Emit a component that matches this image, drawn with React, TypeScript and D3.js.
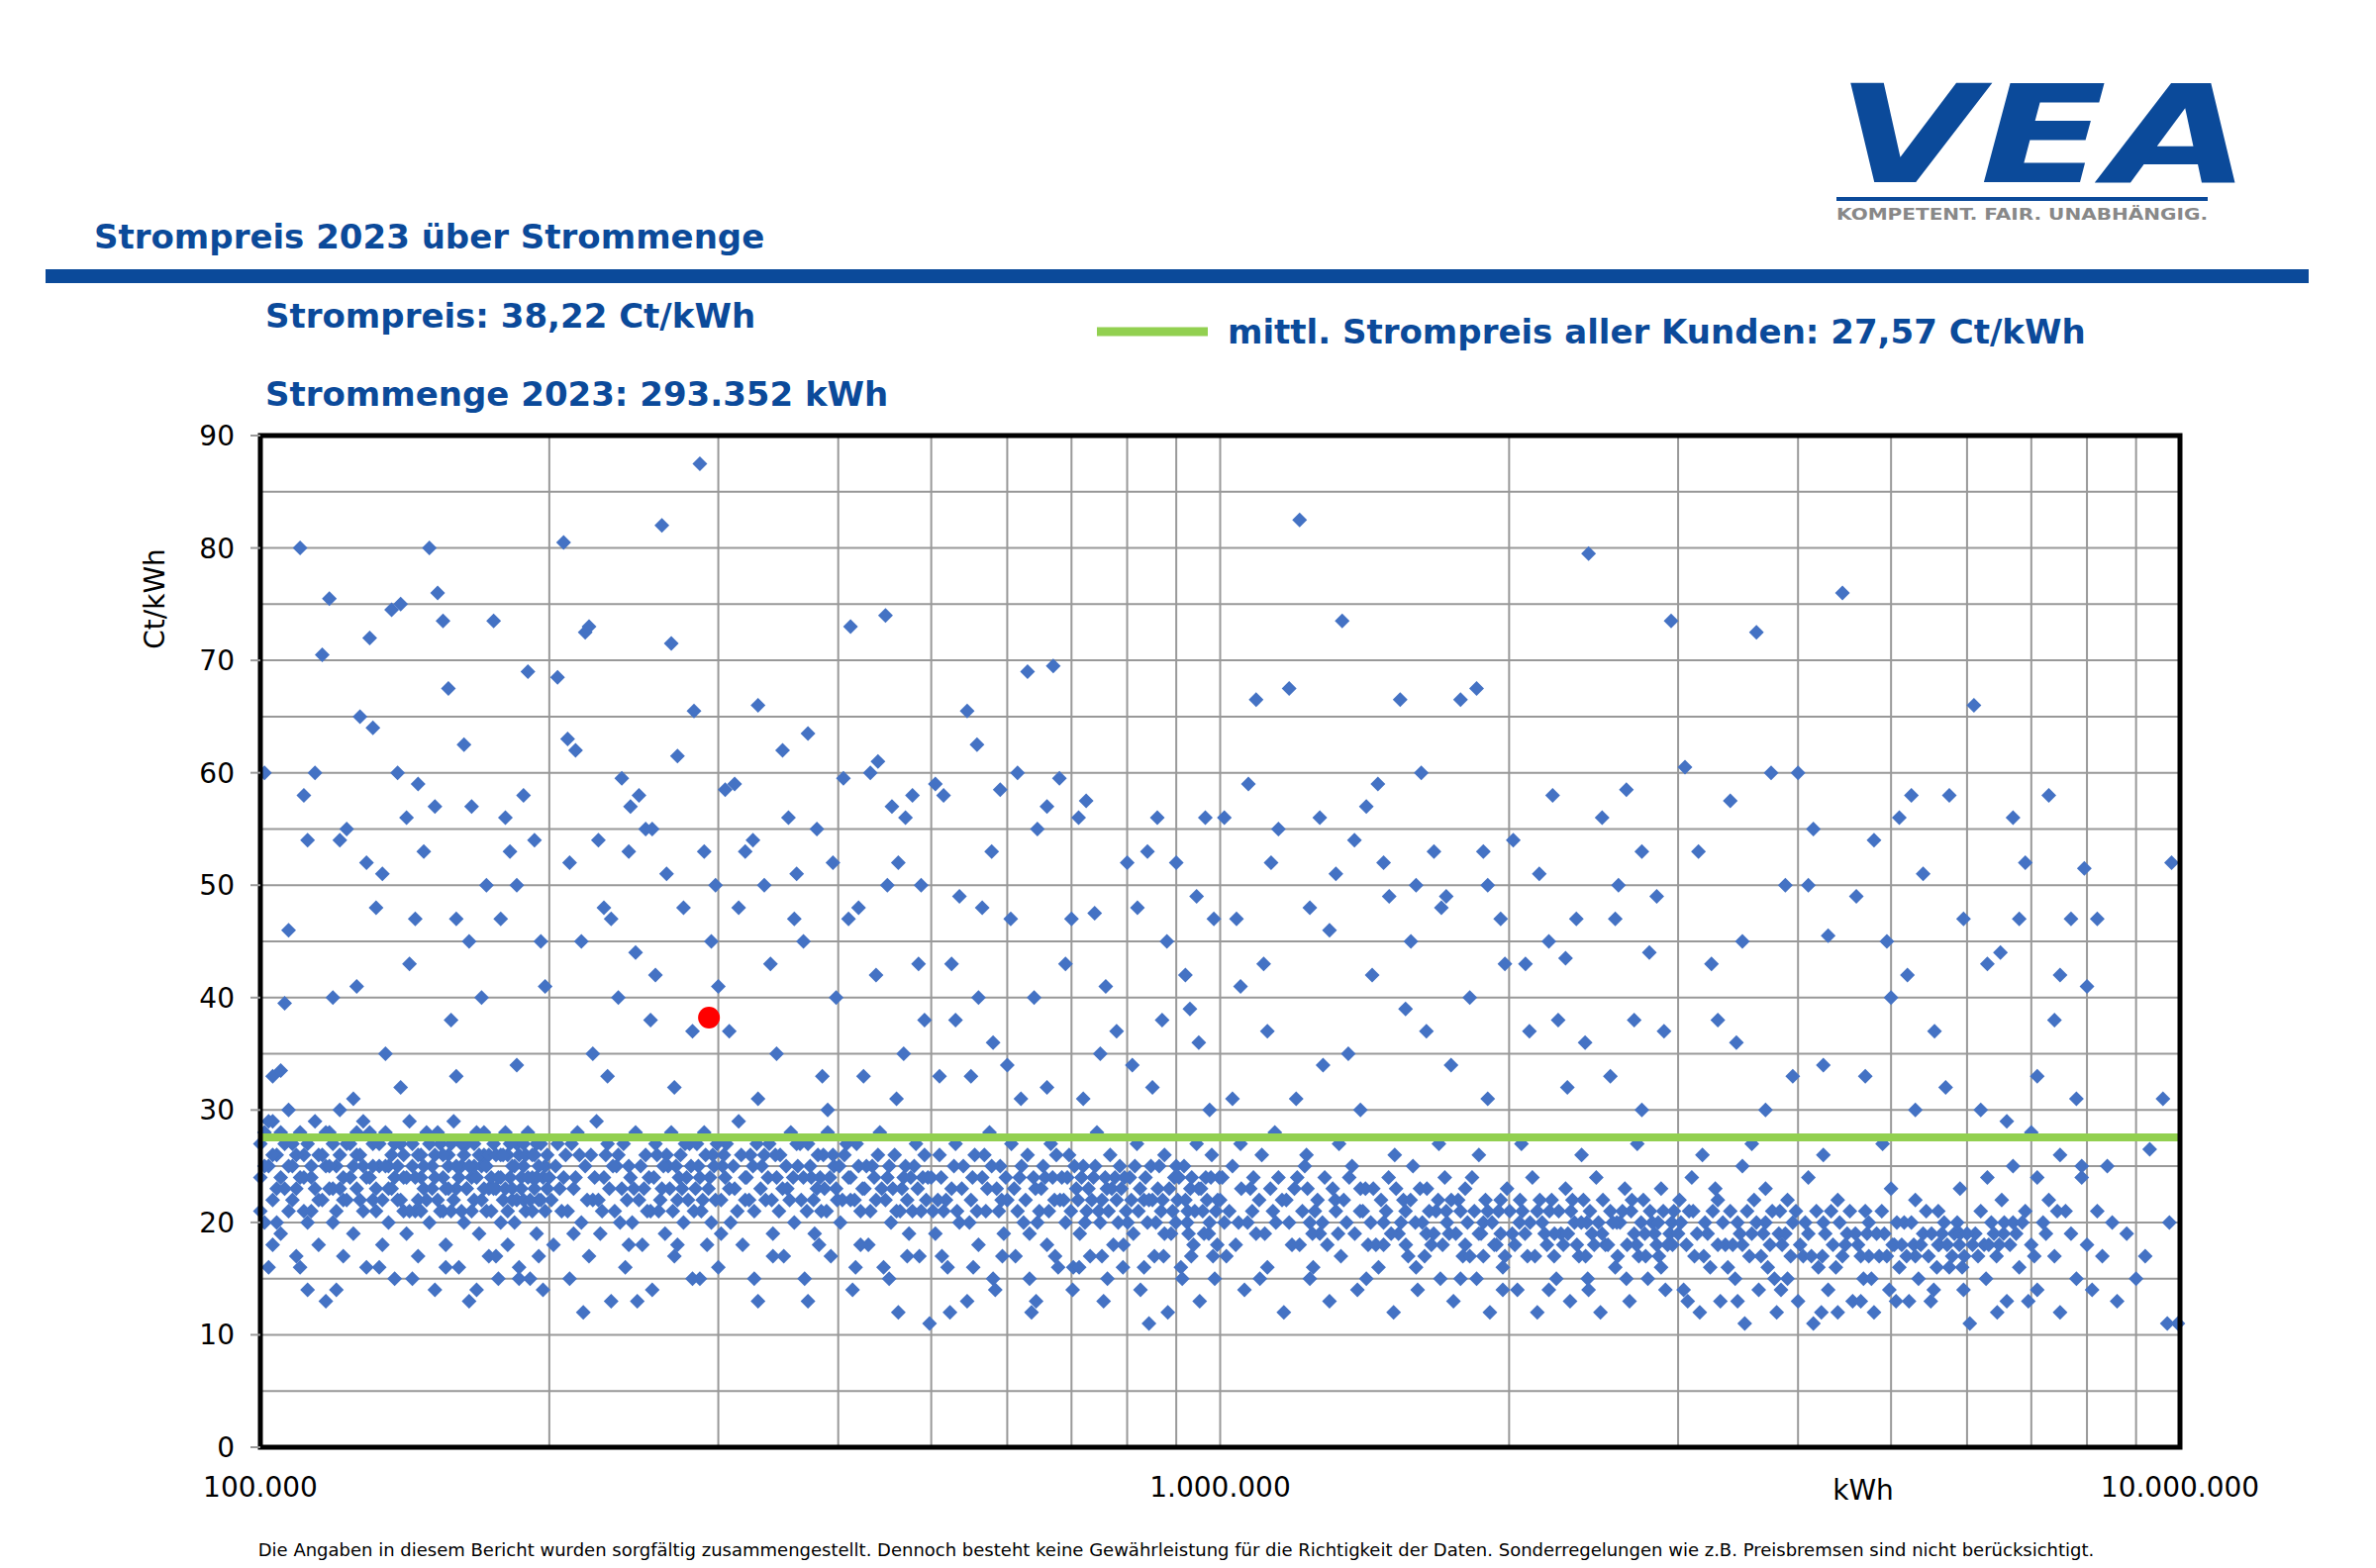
import React from "react";
import * as d3 from "d3";

const yTicks = [0, 10, 20, 30, 40, 50, 60, 70, 80, 90];
const xTickLabels = [
  { v: 1e5, t: "100.000" },
  { v: 1e6, t: "1.000.000" },
  { v: 1e7, t: "10.000.000" },
];
const meanPrice = 27.57;
const ownPoint = { kwh: 293352, price: 38.22 };

// [thousand kWh, Ct/kWh]
const outliersA = [[101,60],[103,33],[105,33.5],[107,46],[106,39.5],[110,80],[112,54],[111,58],[114,60],[116,70.5],[118,75.5],[119,40],[121,54],[123,55],[126,41],[127,65],[129,52],[130,72],[131,64],[132,48],[134,51],[137,74.5],[140,75],[139,60],[142,56],[143,43],[146,59],[150,80],[153,76],[155,73.5],[152,57],[157,67.5],[160,47],[163,62.5],[166,57],[170,40],[175,73.5],[180,56],[182,53],[185,50],[190,69],[193,54],[196,45],[165,45],[172,50],[148,53],[135,35],[145,47],[158,38],[178,47],[188,58],[125,31],[140,32],[160,33],[185,34],[198,41]];
const bandA = [[100,24],[100,27],[101,20],[101,28],[102,25],[102,16],[103,22],[103,29],[104,26],[105,19],[105,24],[106,27],[107,21],[107,30],[108,25],[109,17],[109,23],[110,28],[111,26],[112,20],[112,14],[113,24],[114,29],[115,22],[115,18],[116,26],[117,13],[118,23],[118,28],[119,20],[120,25],[121,30],[122,22],[122,17],[123,27],[124,24],[125,19],[126,26],[127,22],[128,29],[129,16],[130,24],[131,27],[132,21],[133,25],[134,18],[135,28],[136,23],[137,26],[138,15],[139,22],[140,27],[141,24],[142,19],[143,29],[144,25],[145,21],[146,17],[147,26],[148,23],[149,28],[150,20],[151,25],[152,14],[153,22],[154,27],[155,24],[156,18],[157,26],[158,21],[159,29],[160,23],[161,16],[162,25],[163,20],[164,27],[165,13],[166,24],[167,22],[168,28],[169,19],[170,25],[171,26],[172,21],[173,17],[174,24],[175,27],[176,23],[177,15],[178,26],[179,22],[180,28],[181,18],[182,24],[183,25],[184,20],[185,27],[186,16],[187,23],[188,25],[189,21],[190,28],[191,15],[192,24],[193,26],[194,19],[195,22],[196,27],[197,14],[198,25],[199,23],[104,23],[108,27],[113,21],[117,25],[121,23],[126,28],[131,22],[136,25],[141,21],[147,24],[152,26],[157,23],[162,27],[167,25],[173,23],[178,20],[183,22],[188,27],[194,24],[111,24],[119,27],[128,25],[138,24],[146,22],[155,21],[164,23],[171,28],[181,26],[192,21]];
const bandA2 = [[100,21],[101,25],[102,29],[103,26],[104,20],[105,28],[106,23],[107,25],[108,22],[109,26],[110,24],[111,21],[112,27],[113,25],[114,23],[115,26],[116,22],[117,28],[118,25],[119,23],[120,21],[121,26],[122,24],[123,22],[124,27],[125,25],[126,23],[127,26],[128,21],[129,24],[130,28],[131,25],[132,23],[133,27],[134,22],[135,25],[136,20],[137,23],[138,27],[139,25],[140,22],[141,26],[142,24],[143,21],[144,27],[145,24],[146,26],[147,21],[148,25],[149,22],[150,27],[151,23],[152,24],[153,28],[154,21],[155,26],[156,23],[157,25],[158,27],[159,22],[160,25],[161,24],[162,21],[163,26],[164,23],[165,25],[166,21],[167,27],[168,24],[169,26],[170,22],[171,23],[172,25],[173,26],[174,21],[175,23],[176,26],[177,24],[178,24],[179,26],[180,23],[181,21],[182,27],[183,23],[184,25],[185,22],[186,26],[187,24],[188,22],[189,26],[190,24],[191,22],[192,26],[193,23],[194,27],[195,25],[196,22],[197,24],[198,21],[199,26],[103,18],[110,16],[120,14],[133,16],[144,15],[156,16],[168,14],[176,17],[186,15],[195,17]];
const outliersB = [[204,68.5],[207,80.5],[209,63],[213,62],[218,72.5],[220,73],[225,54],[232,47],[238,59.5],[243,57],[248,58],[252,55],[256,55],[262,82],[268,71.5],[272,61.5],[276,48],[283,65.5],[287,87.5],[290,53],[298,50],[305,58.5],[312,59],[320,53],[330,66],[340,43],[350,62],[355,56],[362,51],[372,63.5],[380,55],[398,40],[405,59.5],[412,73],[420,48],[432,60],[440,61],[448,74],[455,57],[462,52],[470,56],[478,58],[485,43],[492,38],[210,52],[216,45],[228,48],[236,40],[246,44],[255,38],[265,51],[282,37],[295,45],[315,48],[335,50],[345,35],[368,45],[385,33],[395,52],[425,33],[438,42],[450,50],[468,35],[488,50],[300,41],[308,37],[258,42],[222,35],[242,53],[326,54],[360,47],[410,47],[230,33],[270,32],[330,31],[390,30],[460,31]];
const bandB = [[200,24],[202,18],[204,27],[206,21],[208,26],[210,15],[212,23],[214,28],[216,20],[218,25],[220,17],[222,22],[224,29],[226,19],[228,24],[230,27],[232,13],[234,21],[236,26],[238,23],[240,16],[242,25],[244,20],[246,28],[248,22],[250,18],[252,26],[254,24],[256,14],[258,27],[260,21],[262,23],[264,19],[266,25],[268,28],[270,17],[272,22],[274,26],[276,20],[278,24],[280,27],[282,15],[284,23],[286,25],[288,21],[290,28],[292,18],[294,24],[296,26],[298,22],[300,16],[303,25],[306,27],[309,20],[312,23],[315,29],[318,18],[321,24],[324,26],[327,21],[330,13],[333,25],[336,22],[339,27],[342,19],[345,24],[348,26],[351,17],[354,23],[357,28],[360,20],[363,25],[366,22],[369,15],[372,27],[375,24],[378,19],[381,26],[384,21],[387,23],[390,28],[393,17],[396,25],[399,22],[402,20],[406,26],[410,24],[414,14],[418,27],[422,21],[426,23],[430,18],[434,25],[438,22],[442,28],[446,16],[450,24],[454,20],[458,26],[462,12],[466,23],[470,25],[474,19],[478,21],[482,27],[486,17],[490,24],[494,22],[498,11],[205,23],[215,26],[225,22],[235,25],[245,23],[255,21],[265,26],[275,23],[285,27],[295,20],[305,24],[320,22],[335,26],[350,23],[365,27],[380,23],[395,26],[412,22],[428,25],[444,23],[460,21],[476,24],[492,26],[217,12],[247,13],[287,15],[327,15],[372,13],[417,16],[452,15]];
const bandB2 = [[201,22],[203,25],[207,24],[209,21],[211,27],[213,24],[219,22],[221,26],[223,24],[227,21],[229,26],[231,23],[233,25],[237,20],[239,27],[241,22],[243,24],[249,25],[251,23],[253,21],[257,24],[259,26],[261,22],[263,25],[267,23],[269,21],[271,25],[273,24],[277,27],[279,22],[281,25],[283,21],[287,24],[289,22],[291,26],[293,23],[297,25],[299,27],[302,22],[304,26],[308,23],[311,25],[314,21],[317,26],[320,24],[323,22],[326,25],[329,27],[332,23],[338,24],[341,22],[344,26],[347,21],[353,25],[356,22],[359,24],[362,27],[368,24],[371,21],[374,25],[377,22],[383,24],[386,26],[389,21],[392,24],[398,23],[401,25],[404,22],[408,27],[412,24],[416,22],[420,25],[424,23],[432,21],[436,24],[440,26],[448,22],[452,25],[456,23],[464,21],[468,24],[472,22],[480,25],[484,23],[488,21],[496,24],[212,19],[242,18],[272,18],[302,19],[342,17],[382,18],[422,18],[472,17]];
const outliersC = [[505,59],[515,58],[525,43],[535,49],[545,65.5],[558,62.5],[565,48],[578,53],[590,58.5],[605,47],[615,60],[630,69],[645,55],[660,57],[670,69.5],[680,59.5],[700,47],[712,56],[725,57.5],[740,47.5],[760,41],[780,37],[800,52],[820,48],[840,53],[860,56],[880,45],[900,52],[920,42],[945,49],[965,56],[985,47],[530,38],[560,40],[600,34],[640,40],[690,43],[750,35],[810,34],[870,38],[930,39],[975,30],[550,33],[620,31],[510,33],[580,36],[660,32],[720,31],[850,32],[950,36]];
const bandC = [[500,24],[505,19],[510,26],[515,21],[520,16],[525,23],[530,27],[535,20],[540,25],[545,13],[550,22],[555,26],[560,18],[565,24],[570,21],[575,28],[580,15],[585,23],[590,25],[595,19],[600,22],[606,27],[612,17],[618,24],[624,20],[630,26],[636,12],[642,23],[648,21],[654,25],[660,18],[666,27],[672,22],[678,16],[684,24],[690,20],[696,26],[702,14],[708,23],[714,19],[720,25],[726,21],[732,17],[738,24],[744,28],[750,20],[756,13],[762,23],[768,26],[774,18],[780,22],[786,25],[792,16],[798,21],[805,24],[812,19],[819,27],[826,14],[833,22],[840,20],[847,25],[854,17],[861,23],[868,21],[875,26],[882,12],[889,19],[896,24],[903,22],[910,16],[917,25],[924,20],[931,23],[938,18],[945,27],[952,13],[959,21],[966,24],[973,19],[980,26],[987,15],[994,22],[508,22],[528,25],[548,20],[568,26],[588,21],[610,23],[633,19],[657,24],[681,22],[705,25],[729,23],[753,22],[777,24],[801,20],[825,23],[850,22],[875,19],[900,25],[925,21],[950,23],[975,20],[998,24],[523,12],[583,14],[643,13],[703,16],[763,15],[843,11],[913,15],[983,17]];
const bandC2 = [[502,21],[512,24],[518,22],[532,21],[538,23],[552,24],[558,21],[572,23],[578,25],[592,22],[598,24],[615,21],[621,25],[627,22],[639,24],[645,20],[651,23],[663,21],[669,24],[675,26],[687,22],[693,24],[699,21],[711,22],[717,24],[723,20],[735,22],[741,25],[747,21],[759,24],[765,21],[771,23],[783,20],[789,23],[795,24],[808,22],[815,25],[822,21],[836,24],[843,22],[857,20],[864,25],[871,22],[885,23],[892,21],[899,20],[906,24],[920,22],[927,19],[934,24],[941,21],[955,23],[962,19],[969,22],[978,24],[990,21],[513,17],[553,16],[593,17],[633,15],[673,17],[713,16],[753,17],[793,18],[833,16],[873,17],[933,17],[993,18]];
const outliersD = [[1010,56],[1040,47],[1070,59],[1090,66.5],[1110,43],[1150,55],[1180,67.5],[1210,82.5],[1240,48],[1270,56],[1300,46],[1340,73.5],[1380,54],[1420,57],[1460,59],[1500,49],[1540,66.5],[1580,45],[1620,60],[1670,53],[1720,49],[1780,66.5],[1850,67.5],[1900,50],[1960,47],[2020,54],[2080,43],[2150,51],[2220,58],[2290,43.5],[2350,47],[2420,79.5],[2500,56],[2580,47],[2650,58.5],[2750,53],[2850,49],[2950,73.5],[1120,37],[1200,31],[1280,34],[1360,35],[1440,42],[1560,39],[1640,37],[1740,34],[1820,40],[1980,43],[2100,37],[2250,38],[2400,36],[2550,33],[2700,38],[2900,37],[1050,41],[1700,48],[1130,52],[1320,51],[1480,52],[1600,50],[1880,53],[2200,45],[2600,50],[2800,44],[1030,31],[1400,30],[1900,31],[2300,32],[2750,30]];
const bandD = [[1000,22],[1015,17],[1030,25],[1045,20],[1060,14],[1075,23],[1090,19],[1105,26],[1120,16],[1135,21],[1150,24],[1165,12],[1180,20],[1195,23],[1210,18],[1225,25],[1240,15],[1255,21],[1270,19],[1285,24],[1300,13],[1318,22],[1336,17],[1354,20],[1372,25],[1390,14],[1408,21],[1426,18],[1444,23],[1462,16],[1480,20],[1498,24],[1516,12],[1534,19],[1552,22],[1570,17],[1588,25],[1606,14],[1624,20],[1642,23],[1660,18],[1678,21],[1696,15],[1714,24],[1732,19],[1750,13],[1770,22],[1790,17],[1810,20],[1830,24],[1850,15],[1870,19],[1890,22],[1910,12],[1930,18],[1950,21],[1970,16],[1990,23],[2015,19],[2040,14],[2065,21],[2090,17],[2115,24],[2140,12],[2165,20],[2190,18],[2215,22],[2240,15],[2265,19],[2290,23],[2315,13],[2340,20],[2365,17],[2390,22],[2415,15],[2440,19],[2465,24],[2490,12],[2520,18],[2550,21],[2580,16],[2610,20],[2640,23],[2670,13],[2700,19],[2730,17],[2760,22],[2790,15],[2820,20],[2850,18],[2880,23],[2910,14],[2940,19],[2970,21],[1010,20],[1080,21],[1160,22],[1240,20],[1320,21],[1400,23],[1480,18],[1560,21],[1640,19],[1720,21],[1800,18],[1880,20],[1960,19],[2050,20],[2140,21],[2230,19],[2320,21],[2410,20],[2500,19],[2590,20],[2680,21],[2770,19],[2860,20],[2960,18],[1050,27],[1140,28],[1230,26],[1330,27],[1520,26],[1690,27],[1860,26],[2060,27],[2380,26],[2720,27]];
const bandD2 = [[1005,24],[1022,21],[1038,18],[1052,23],[1068,20],[1083,24],[1098,22],[1113,19],[1128,23],[1143,20],[1172,22],[1188,18],[1203,24],[1218,21],[1233,23],[1248,19],[1263,22],[1278,20],[1293,18],[1310,23],[1327,19],[1345,22],[1363,24],[1381,19],[1399,21],[1417,23],[1435,20],[1453,18],[1471,22],[1489,21],[1507,19],[1525,23],[1543,20],[1561,18],[1579,22],[1597,20],[1615,23],[1633,17],[1651,21],[1669,19],[1687,22],[1705,18],[1723,20],[1741,22],[1760,19],[1780,21],[1800,23],[1820,17],[1840,21],[1860,19],[1880,17],[1900,21],[1920,20],[1940,18],[1960,22],[1980,17],[2003,21],[2028,18],[2053,22],[2078,19],[2103,20],[2128,17],[2153,22],[2178,19],[2203,21],[2228,17],[2253,21],[2278,18],[2303,19],[2328,22],[2353,18],[2378,20],[2403,17],[2428,21],[2453,18],[2478,20],[2505,22],[2535,18],[2565,20],[2595,17],[2625,21],[2655,18],[2685,22],[2715,18],[2745,20],[2775,17],[2805,21],[2835,19],[2865,17],[2895,21],[2925,18],[2955,20],[1100,15],[1250,16],[1420,15],[1600,16],[1780,15],[1970,14],[2200,14],[2420,14],[2650,15],[2880,16]];
const outliersE = [[3050,60.5],[3150,53],[3250,43],[3400,57.5],[3500,45],[3620,72.5],[3750,60],[3880,50],[4000,60],[4150,55],[4300,45.5],[4450,76],[4600,49],[4800,54],[4950,45],[5100,56],[5250,58],[5400,51],[5550,37],[5750,58],[5950,47],[6100,66],[6300,43],[6500,44],[6700,56],[6900,52],[7100,33],[7300,58],[7500,42],[7700,47],[7950,51.5],[8500,20],[9300,26.5],[9600,31],[9800,52],[9950,11],[9700,11],[3300,38],[3450,36],[3700,30],[3950,33],[4250,34],[4700,33],[5000,40],[5300,30],[5700,32],[6200,30],[6600,29],[7000,28],[7400,38],[7800,31],[9750,20],[8200,47],[8000,41],[6800,47],[5200,42],[4100,50]];
const bandE = [[3000,19],[3040,14],[3080,21],[3120,17],[3160,12],[3200,20],[3240,16],[3280,23],[3320,13],[3360,18],[3400,21],[3440,15],[3480,19],[3520,11],[3560,17],[3600,22],[3640,14],[3680,19],[3720,16],[3760,21],[3800,12],[3850,18],[3900,15],[3950,20],[4000,13],[4050,17],[4100,19],[4150,11],[4200,16],[4250,20],[4300,14],[4350,18],[4400,12],[4450,17],[4500,19],[4560,13],[4620,18],[4680,15],[4740,20],[4800,12],[4860,17],[4920,19],[4980,14],[5040,18],[5100,16],[5160,20],[5220,13],[5280,18],[5340,15],[5400,19],[5470,17],[5540,14],[5610,18],[5680,20],[5750,16],[5820,19],[5890,18],[5960,17],[6040,11],[6120,19],[6200,21],[6280,15],[6360,20],[6440,17],[6520,22],[6600,13],[6700,20],[6800,16],[6900,21],[7000,18],[7100,14],[7200,20],[7300,22],[7400,17],[7500,12],[7600,21],[7700,19],[7800,15],[7900,24],[8000,18],[8100,14],[8200,21],[8300,17],[8400,25],[8600,13],[8800,19],[9000,15],[9200,17],[3100,24],[3300,22],[3500,25],[3700,23],[3900,22],[4100,24],[4400,22],[4700,21],[5000,23],[5300,22],[5600,21],[5900,23],[6300,24],[6700,25],[7100,24],[7500,26],[7900,25],[3020,20],[3220,19],[3420,18],[3620,20],[3820,19],[4020,18],[4240,17],[4480,18],[4740,17],[5020,18],[5300,17],[5600,18],[5900,19],[6250,18],[6550,19],[3180,26],[3580,27],[4250,26],[4900,27]];
const bandE2 = [[3010,22],[3060,18],[3110,21],[3140,19],[3190,17],[3260,21],[3300,18],[3340,20],[3380,16],[3460,20],[3500,18],[3540,21],[3580,19],[3660,17],[3700,20],[3740,18],[3780,15],[3830,21],[3880,19],[3930,17],[3980,21],[4070,20],[4130,17],[4180,21],[4270,19],[4330,21],[4380,16],[4420,20],[4530,21],[4590,19],[4650,17],[4720,19],[4770,15],[4830,19],[4890,21],[4950,17],[5070,20],[5130,18],[5190,17],[5250,20],[5370,18],[5440,21],[5510,19],[5580,16],[5650,19],[5720,18],[5790,17],[5860,20],[5930,16],[6000,19],[6080,18],[6160,17],[6320,18],[6400,19],[6480,18],[6560,20],[6650,18],[6750,19],[6850,20],[7050,17],[7250,19],[7450,21],[3070,13],[3460,13],[3840,14],[4230,12],[4650,13],[5060,13],[5500,13],[5950,14],[6450,12],[6950,13]];

const allPoints: number[][] = [
  ...outliersA, ...bandA, ...bandA2, ...outliersB, ...bandB, ...bandB2, ...outliersC, ...bandC, ...bandC2,
  ...outliersD, ...bandD, ...bandD2, ...outliersE, ...bandE, ...bandE2,
];

const BLUE = "#0b4a9a";
const font = "Tahoma, 'DejaVu Sans', Verdana, sans-serif";

export default function App() {
  const L = 263, R = 2202, T = 440, B = 1462;
  const x = d3.scaleLog().domain([1e5, 1e7]).range([L, R]);
  const y = d3.scaleLinear().domain([0, 90]).range([B, T]);
  const vGrid: number[] = [];
  for (const dec of [1e5, 1e6]) for (let k = 1; k <= 9; k++) vGrid.push(dec * k);
  vGrid.push(1e7);
  const hGrid = d3.range(0, 91, 5);
  const h = 7.5;
  const diamond = `M0,${-h}L${h},0L0,${h}L${-h},0Z`;
  return (
    <svg width={2400} height={1584} style={{ display: "block", position: "absolute", left: 0, top: 0, background: "#fff" }} fontFamily={font}>
      <rect width={2400} height={1584} fill="#fff" />
      {/* logo */}
      <g>
        <text x={1855} y={186} fontSize={105} fontWeight="bold" fontStyle="italic" fill="#0b4a9a" textLength={418} lengthAdjust="spacingAndGlyphs" fontFamily="'DejaVu Sans', sans-serif" transform="translate(0,-58) scale(1,1.3)" style={{ transformOrigin: "0 0" }}>VEA</text>
        <rect x={1855} y={199} width={375} height={4} fill="#0b4a9a" />
        <text x={1855} y={222} fontSize={16} fontWeight="bold" fill="#888" textLength={375} lengthAdjust="spacingAndGlyphs">KOMPETENT. FAIR. UNABHÄNGIG.</text>
      </g>
      <text x={95} y={251} fontSize={34} fontWeight="bold" fill={BLUE}>Strompreis 2023 über Strommenge</text>
      <rect x={46} y={272} width={2286} height={14} fill={BLUE} />
      <text x={268} y={331} fontSize={34} fontWeight="bold" fill={BLUE}>Strompreis: 38,22 Ct/kWh</text>
      <text x={268} y={410} fontSize={34} fontWeight="bold" fill={BLUE}>Strommenge 2023: 293.352 kWh</text>
      <line x1={1108} x2={1220} y1={335} y2={335} stroke="#92d050" strokeWidth={9} />
      <text x={1240} y={347} fontSize={34} fontWeight="bold" fill={BLUE}>mittl. Strompreis aller Kunden: 27,57 Ct/kWh</text>
      {hGrid.map((v) => <line key={"h" + v} x1={L} x2={R} y1={y(v)} y2={y(v)} stroke="#999" strokeWidth={2} />)}
      {vGrid.map((v) => <line key={"v" + v} x1={x(v)} x2={x(v)} y1={T} y2={B} stroke="#999" strokeWidth={2} />)}
      {allPoints.map((p, i) => (
        <path key={i} d={diamond} transform={`translate(${x(p[0] * 1000)},${y(p[1])})`} fill="#4472c4" />
      ))}
      <line x1={L} x2={R} y1={y(meanPrice)} y2={y(meanPrice)} stroke="#92d050" strokeWidth={8} />
      <circle cx={x(ownPoint.kwh)} cy={y(ownPoint.price)} r={11} fill="#ff0000" />
      <rect x={L} y={T} width={R - L} height={B - T} fill="none" stroke="#000" strokeWidth={5} />
      {yTicks.map((v) => (
        <g key={"yt" + v}>
          <line x1={L - 10} x2={L} y1={y(v)} y2={y(v)} stroke="#999" strokeWidth={2} />
          <text x={237} y={y(v) + 10} fontSize={28} textAnchor="end" fill="#000">{v}</text>
        </g>
      ))}
      {xTickLabels.map((d) => (
        <text key={d.t} x={x(d.v)} y={1512} fontSize={28} textAnchor="middle" fill="#000">{d.t}</text>
      ))}
      <text x={1882} y={1515} fontSize={28} textAnchor="middle" fill="#000">kWh</text>
      <text transform="translate(166,605) rotate(-90)" fontSize={28} textAnchor="middle" fill="#000">Ct/kWh</text>
      <text x={1188} y={1572} fontSize={18} textAnchor="middle" fill="#000">Die Angaben in diesem Bericht wurden sorgfältig zusammengestellt. Dennoch besteht keine Gewährleistung für die Richtigkeit der Daten. Sonderregelungen wie z.B. Preisbremsen sind nicht berücksichtigt.</text>
    </svg>
  );
}
